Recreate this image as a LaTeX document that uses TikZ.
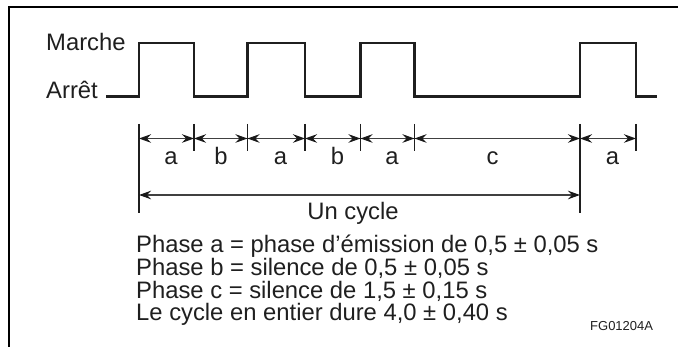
\documentclass[tikz,border=0pt]{standalone}
\usepackage{fontspec}
\setmainfont{Liberation Sans}
\usetikzlibrary{arrows.meta}
\begin{document}
\begin{tikzpicture}[x=1pt,y=-1pt,
  frame/.style={line width=2pt, line cap=rect},
  wave/.style={line width=2.8pt, line join=miter, color=black!88},
  tickline/.style={line width=1.9pt, color=black!88},
  dim/.style={line width=0.9pt, color=black!75, {Stealth[length=12pt,width=8.5pt,inset=4pt,color=black!90]}-{Stealth[length=12pt,width=8.5pt,inset=4pt,color=black!90]}},
  cyc/.style={line width=1.8pt, color=black!75, {Stealth[length=12pt,width=8.5pt,inset=4pt,color=black!90]}-{Stealth[length=12pt,width=8.5pt,inset=4pt,color=black!90]}},
  lbl/.style={font=\fontsize{23.8}{24}\selectfont, inner sep=0pt, anchor=base, text=black!88},
  txt/.style={font=\fontsize{23.8}{24}\selectfont, inner sep=0pt, anchor=base west, text=black!88},
  code/.style={font=\fontsize{13}{14}\selectfont, inner sep=0pt, anchor=base west, text=black!88},
]
\useasboundingbox (0,0) rectangle (678,347);
% frame (top and left only)
\draw[frame] (9,347) -- (9,7.5) -- (678,7.5);

% state labels
\node[txt] (marche) at (46,50.5) {Marche};
\node[txt] (arret) at (46,99) {Arrêt};

% waveform
\draw[wave] (106,96.5) -- (139,96.5) -- (139,43) -- (194,43) -- (194,96.5)
  -- (247.5,96.5) -- (247.5,43) -- (305,43) -- (305,96.5)
  -- (360.5,96.5) -- (360.5,43) -- (414.5,43) -- (414.5,96.5)
  -- (580,96.5) -- (580,43) -- (636,43) -- (636,96.5) -- (657,96.5);

% tick coordinates on the dimension line
\foreach \n/\x in {t1/139,t2/194,t3/247.5,t4/305,t5/360.5,t6/414.5,t7/580,t8/636}{
  \coordinate (\n) at (\x,138.5);
  \coordinate (\n-top) at (\x,124);
}
\foreach \n in {t2,t3,t4,t5,t6,t8}{
  \draw[tickline] (\n-top) -- ++(0,27);
}
\draw[tickline] (t1-top) -- ++(0,89);
\draw[tickline] (t7-top) -- ++(0,89);

% segment arrows
\draw[dim] (t1) -- (t2);
\draw[dim] (t2) -- (t3);
\draw[dim] (t3) -- (t4);
\draw[dim] (t4) -- (t5);
\draw[dim] (t5) -- (t6);
\draw[dim] (t6) -- (t7);
\draw[dim] (t7) -- (t8);

% segment labels
\node[lbl] (la1) at (171,165) {a};
\node[lbl] (lb1) at (221,165) {b};
\node[lbl] (la2) at (280.5,165) {a};
\node[lbl] (lb2) at (337.5,165) {b};
\node[lbl] (la3) at (392,165) {a};
\node[lbl] (lc) at (492.5,165) {c};
\node[lbl] (la4) at (612.5,165) {a};

% cycle arrow
\coordinate (c1) at (139,195);
\coordinate (c2) at (580,195);
\draw[cyc] (c1) -- (c2);
\node[lbl] (uncycle) at (353,220) {Un cycle};

% legend
\node[txt] (l1) at (136,252.7) {Phase a = phase d’émission de 0,5 ± 0,05 s};
\node[txt] (l2) at (136,275.5) {Phase b = silence de 0,5 ± 0,05 s};
\node[txt] (l3) at (136,298.3) {Phase c = silence de 1,5 ± 0,15 s};
\node[txt] (l4) at (136,321) {Le cycle en entier dure 4,0 ± 0,40 s};
\node[code] (fg) at (590,331) {FG01204A};
\end{tikzpicture}
\end{document}
